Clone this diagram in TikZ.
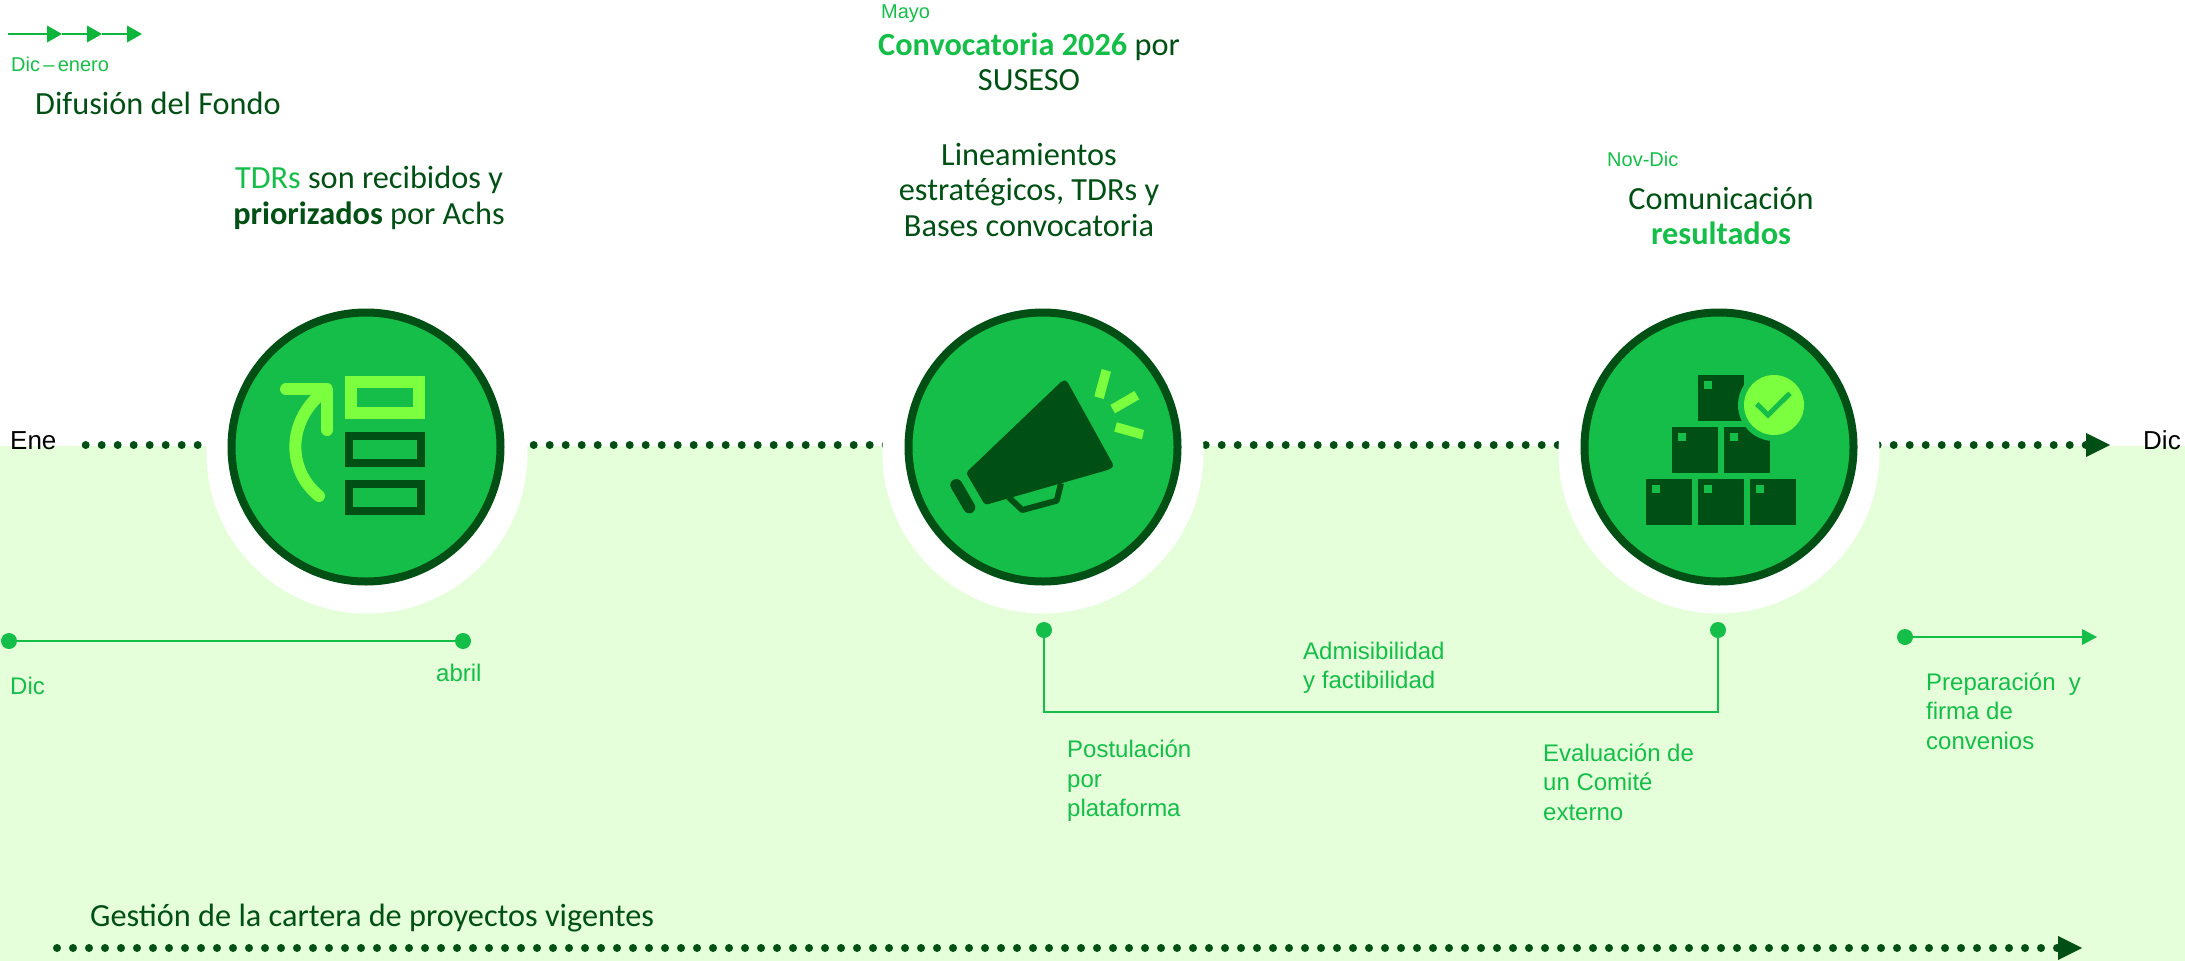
\documentclass[tikz,border=0pt]{standalone}
\usepackage{fontspec}
\setmainfont{Carlito}
\newfontfamily\arialfont{Liberation Sans}
\usetikzlibrary{arrows.meta}

\definecolor{fondo}{HTML}{E4FFDA}
\definecolor{verde}{HTML}{15BE48}
\definecolor{oscuro}{HTML}{004F14}
\definecolor{lima}{HTML}{7CFF3F}
\definecolor{flecha}{HTML}{0DB53A}

\tikzset{
  titulo/.style={text=oscuro, inner sep=0pt, align=center, font=\fontsize{32.3}{35.5}\selectfont},
  etiqueta/.style={text=verde, inner sep=0pt, align=left, anchor=west, font=\arialfont\fontsize{24}{29.5}\selectfont},
  fecha/.style={text=verde, inner sep=0pt, anchor=west, font=\arialfont\fontsize{20}{24}\selectfont},
  mes/.style={inner sep=0pt, anchor=west, font=\arialfont\fontsize{26}{30}\selectfont},
  hito/.style={circle, draw=oscuro, fill=verde, line width=8pt, minimum size=269pt, inner sep=0pt},
  halo/.style={circle, fill=white, minimum size=321pt, inner sep=0pt},
  punto/.style={circle, fill=verde, minimum size=16pt, inner sep=0pt},
  linea/.style={draw=verde, line width=2.5pt},
  puntos/.style={draw=oscuro, line cap=round, line width=#1, dash pattern=on 0pt off 16pt},
}

\begin{document}
\begin{tikzpicture}[x=1pt, y=-1pt]
      \useasboundingbox (0,0) rectangle (2185,961);
      \fill[fondo] (0,446) rectangle (2185,961);

      % Nodes
      \coordinate (ejeA) at (85.7,445);
      \coordinate (ejeB) at (2110,445);
      \coordinate (cartA) at (57,948);
      \coordinate (cartB) at (2082,948);
      \coordinate (difA) at (8,34);
      \coordinate (difM) at (62,34);
      \coordinate (difN) at (102,34);
      \coordinate (difB) at (142,34);

      \draw[puntos=8pt, -{Triangle[length=24pt,width=24pt,line width=0pt]}] (ejeA) -- (ejeB);
      \draw[puntos=8pt, -{Triangle[length=24pt,width=24pt,line width=0pt]}] (cartA) -- (cartB);

      \node[halo] (haloA) at (367,453) {};
      \node[halo] (haloB) at (1043,453) {};
      \node[halo] (haloC) at (1719,453) {};
      \node[hito] (tdr) at (366,447) {};
      \node[hito] (convoca) at (1043,447) {};
      \node[hito] (comunica) at (1719,447) {};

      \node[punto] (dicA) at (9,641) {};
      \node[punto] (dicB) at (463,641) {};
      \node[punto] (postA) at (1044,630) {};
      \node[punto] (postB) at (1718,630) {};
      \node[punto] (firmaA) at (1905,637) {};
      \coordinate (firmaB) at (2097,637);
      \coordinate (postC) at (1044,712);
      \coordinate (postD) at (1718,712);

      % Edges
      \draw[flecha, line width=2.5pt, -{Triangle[length=15pt,width=17pt,line width=0pt]}] (difA) -- (difM);
      \draw[flecha, line width=2.5pt, -{Triangle[length=15pt,width=17pt,line width=0pt]}] (difM) -- (difN);
      \draw[flecha, line width=2.5pt, -{Triangle[length=15pt,width=17pt,line width=0pt]}] (difN) -- (difB);
      \draw[linea] (dicA) -- (dicB);
      \draw[linea] (postA) -- (postC) -- (postD) -- (postB);
      \draw[linea, -{Triangle[length=15pt,width=16pt,line width=0pt]}] (firmaA) -- (firmaB);

      % Icono TDRs
      \draw[lima, line width=12pt] (351.3,381.7) rectangle (419.3,413.3);
      \draw[oscuro, line width=8pt] (349.3,435.7) rectangle (421.3,463.3);
      \draw[oscuro, line width=8pt] (349.3,483.7) rectangle (421.3,511.3);
      \draw[lima, line width=12pt, line cap=round, line join=round] (286,389.3) -- (327.3,389.3) -- (327.3,430);
      \draw[lima, line width=12pt, line cap=round] (319,496) .. controls (287,470) and (287,422) .. (322,393);

      % Icono megafono
      \fill[oscuro, rounded corners=3pt] (966,472.7) -- (1062.5,380.5) -- (1066.7,380.5) -- (1114,466) -- (1110,469.3) -- (985,505) -- cycle;
      \draw[oscuro, line width=6pt, line join=round] (1008.7,497.3) -- (1022.3,510) -- (1056.7,500.7) -- (1061,483.3);
      \draw[oscuro, line width=12pt, line cap=round] (956.3,485) -- (969.3,507.3);
      \fill[lima] (1101.7,369) -- (1111,371.7) -- (1103.7,399) -- (1094.3,396.3) -- cycle;
      \fill[lima] (1134.3,391) -- (1139.3,399.3) -- (1115,413.3) -- (1110.3,405) -- cycle;
      \fill[lima] (1116.7,422.3) -- (1144,430) -- (1142,439.3) -- (1114.3,431.7) -- cycle;

      % Icono cajas
      \foreach \cx/\cy in {1698/375, 1672/427, 1724/427, 1646/479, 1698/479, 1750/479} {
        \fill[oscuro] (\cx,\cy) rectangle ++(46,46);
        \fill[verde] (\cx+6,\cy+6) rectangle ++(8,8);
      }
      \fill[verde] (1774,405) circle[radius=36pt];
      \fill[lima] (1774,405) circle[radius=30pt];
      \draw[verde, line width=5pt] (1756.7,404) -- (1768,415) -- (1790,393.3);

      % Textos
      \node[fecha] (dicenero) at (11,64) {Dic\,–\,enero};
      \node[titulo, anchor=west] (difusion) at (35,103) {Difusión del Fondo};
      \node[titulo] (tdrs) at (369,198) {\textcolor{verde}{TDRs} son recibidos y\\\textbf{priorizados} por Achs};
      \node[fecha] (mayo) at (881,14) {Mayo};
      \node[titulo] (convocatoria) at (1029,62) {\textcolor{verde}{\textbf{Convocatoria 2026}} por\\SUSESO};
      \node[titulo] (lineamientos) at (1029,190) {Lineamientos\\estratégicos, TDRs y\\Bases convocatoria};
      \node[fecha] (novdic) at (1607,159) {Nov-Dic};
      \node[titulo] (comunicacion) at (1721,216) {Comunicación\\\textcolor{verde}{\textbf{resultados}}};
      \node[titulo, anchor=west] (gestion) at (90,918) {Gestión de la cartera de proyectos vigentes};

      \node[mes] (ene) at (10,441) {Ene};
      \node[mes] (dic) at (2143,440) {Dic};
      \node[etiqueta] (dicabajo) at (10,686) {Dic};
      \node[etiqueta] (abril) at (436,673) {abril};
      \node[etiqueta] (admisible) at (1303,668) {Admisibilidad\\y factibilidad};
      \node[etiqueta] (postula) at (1067,781) {Postulación\\por\\plataforma};
      \node[etiqueta] (evalua) at (1543,782) {Evaluación de\\un Comité\\externo};
      \node[etiqueta] (prepara) at (1926,711) {Preparación~ y\\firma de\\convenios};

    \end{tikzpicture}
\end{document}
